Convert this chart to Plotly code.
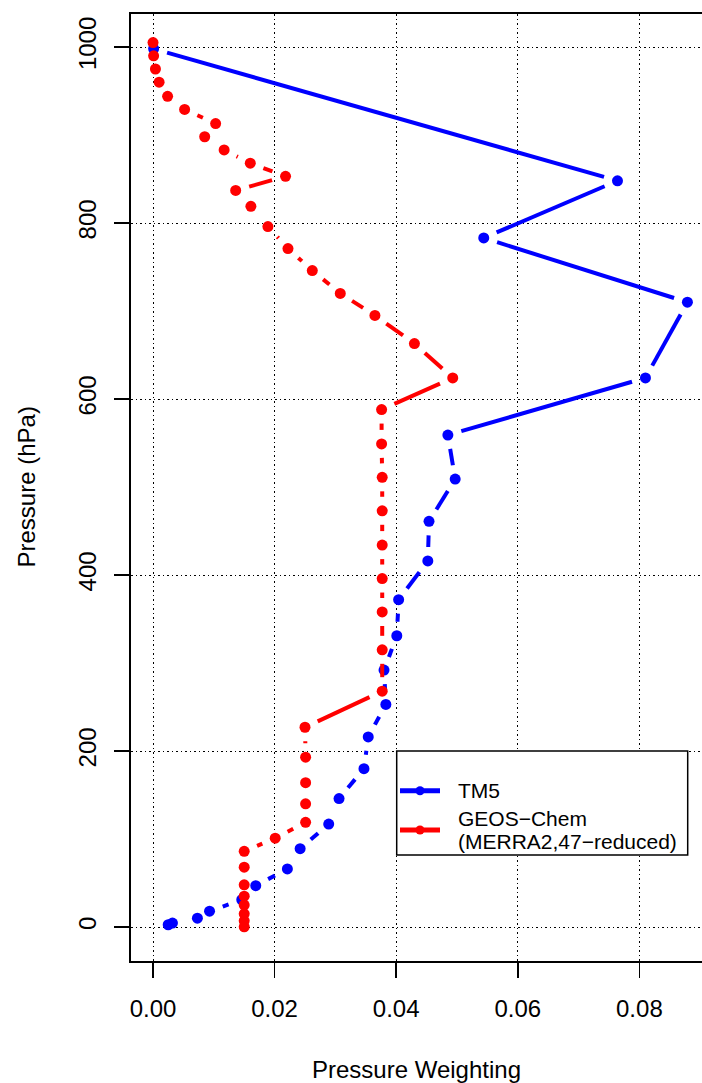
import math
import plotly.graph_objects as go

# ---------------- data ----------------
tm5_weight = [0.0001, 0.0764, 0.0544, 0.0879, 0.0810, 0.0485, 0.0497, 0.0454,
              0.0452, 0.0404, 0.0401, 0.0380, 0.0383, 0.0354, 0.0347, 0.0306,
              0.0289, 0.0242, 0.0221, 0.0169, 0.0146, 0.0093, 0.0073, 0.0032,
              0.0025]
tm5_pressure = [998, 848, 783, 710, 624, 559, 509, 461,
                416, 372, 331, 292, 253, 216, 180, 146,
                117, 89, 66, 47, 31, 18, 10, 4.5,
                2.6]

geos_weight = [0.0000, 0.0001, 0.0004, 0.0010, 0.0024, 0.0052, 0.0103, 0.0085,
               0.0117, 0.0160, 0.0218, 0.0136, 0.0161, 0.0189, 0.0222, 0.0262,
               0.0308, 0.0365, 0.0430, 0.0493, 0.0376, 0.0376, 0.0377, 0.0377,
               0.0377, 0.0377, 0.0377, 0.0377, 0.0377, 0.0250, 0.0251, 0.0251,
               0.0251, 0.0251, 0.0201, 0.0150, 0.0150, 0.0150, 0.0150, 0.0150,
               0.0150, 0.0150, 0.0150]
geos_pressure = [1005, 990, 975, 960, 944, 929, 913, 898,
                 883, 868, 853, 837, 819, 796, 771, 746,
                 720, 695, 663, 624, 588, 549, 511, 473,
                 434, 396, 358, 315, 268, 227, 193, 164,
                 140, 119, 101, 86, 68, 48, 35, 25,
                 15, 7, 0.3]

series_names = ["TM5", "GEOS\u2212Chem"]
legend_lines = [["TM5"], ["GEOS\u2212Chem", "(MERRA2,47\u2212reduced)"]]
series_colors = ["#0000FF", "#FF0000"]

x_ticks = [0.00, 0.02, 0.04, 0.06, 0.08]
x_tick_labels = ["0.00", "0.02", "0.04", "0.06", "0.08"]
y_ticks = [0, 200, 400, 600, 800, 1000]
y_tick_labels = ["0", "200", "400", "600", "800", "1000"]

# ---------------- layout geometry ----------------
OFF = 0                      # body margin removed by post_script below
W, H = 702 - OFF, 1083 - OFF
ML, MT, MR = 131 - OFF, 14 - OFF, 0
PW = W - ML - MR
PH = 961 - 14
MB = H - MT - PH
XR = [-0.00362, 0.0903]
YR = [-38.6, 1037.5]
GAP = 14.0  # px gap between line ends and point centres (R type="b")
FONT = "Liberation Sans, Arial, Helvetica, sans-serif"


def to_px(x, y):
    return (ML + (x - XR[0]) / (XR[1] - XR[0]) * PW,
            MT + PH - (y - YR[0]) / (YR[1] - YR[0]) * PH)


def from_px(px, py):
    return (XR[0] + (px - ML) / PW * (XR[1] - XR[0]),
            YR[0] + (MT + PH - py) / PH * (YR[1] - YR[0]))


def paper(px_page, py_page):
    """page pixel -> paper coordinates (for legend decoration)"""
    fx, fy = px_page - OFF, py_page - OFF
    return (fx - ML) / PW, (MT + PH - fy) / PH


def gapped(xs, ys):
    gx, gy = [], []
    for i in range(len(xs) - 1):
        ax, ay = to_px(xs[i], ys[i])
        bx, by = to_px(xs[i + 1], ys[i + 1])
        d = math.hypot(bx - ax, by - ay)
        if d <= 2 * GAP:
            continue
        ux, uy = (bx - ax) / d, (by - ay) / d
        x1, y1 = from_px(ax + GAP * ux, ay + GAP * uy)
        x2, y2 = from_px(bx - GAP * ux, by - GAP * uy)
        gx += [x1, x2, None]
        gy += [y1, y2, None]
    return gx, gy


fig = go.Figure()
for name, col, xs, ys in [(series_names[0], series_colors[0], tm5_weight, tm5_pressure),
                          (series_names[1], series_colors[1], geos_weight, geos_pressure)]:
    gx, gy = gapped(xs, ys)
    fig.add_trace(go.Scatter(x=gx, y=gy, mode="lines", line=dict(color=col, width=4),
                             showlegend=False, hoverinfo="skip"))
    fig.add_trace(go.Scatter(x=xs, y=ys, mode="markers",
                             marker=dict(color=col, size=11, line=dict(width=0)),
                             showlegend=False, name=name))

axis_common = dict(
    showgrid=True, gridcolor="black", gridwidth=1, griddash="1.5px,3px",
    zeroline=False, showline=True, linecolor="black", linewidth=2,
    ticks="outside", ticklen=15, tickwidth=1.5, tickcolor="black",
    tickfont=dict(family=FONT, size=24, color="black"),
    automargin=False, fixedrange=True,
)

# ---------------- manual R-style legend ----------------
shapes = []
annotations = []
x0, y0 = paper(396.7, 751)
x1, y1 = paper(687.7, 855)
shapes.append(dict(type="rect", xref="paper", yref="paper", x0=x0, y0=y1, x1=x1, y1=y0,
                   line=dict(color="black", width=1.5), fillcolor="white", layer="above"))
sym_y = [790.7, 830]
text_y = [[790.7], [818, 841.7]]
for k, col in enumerate(series_colors):
    lx0, ly = paper(400, sym_y[k])
    lx1, _ = paper(440, sym_y[k])
    shapes.append(dict(type="line", xref="paper", yref="paper", x0=lx0, x1=lx1, y0=ly, y1=ly,
                       line=dict(color=col, width=5), layer="above"))
    cx0, cy0 = paper(420 - 4.5, sym_y[k] - 4.5)
    cx1, cy1 = paper(420 + 4.5, sym_y[k] + 4.5)
    shapes.append(dict(type="circle", xref="paper", yref="paper", x0=cx0, x1=cx1, y0=cy1, y1=cy0,
                       line=dict(width=0), fillcolor=col, layer="above"))
    for line_txt, ty in zip(legend_lines[k], text_y[k]):
        tx, typ = paper(455.5, ty)
        annotations.append(dict(text=line_txt, xref="paper", yref="paper", x=tx, y=typ,
                                xanchor="left", yanchor="middle", showarrow=False,
                                font=dict(family=FONT, size=21, color="black")))

annotations += [
    dict(text="Pressure Weighting", xref="paper", yref="paper", x=0.5, y=0,
         yshift=-(1069 - 961), xanchor="center", yanchor="middle",
         showarrow=False, font=dict(family=FONT, size=24, color="black")),
    dict(text="Pressure (hPa)", xref="paper", yref="paper", x=0, y=0.5,
         xshift=-(131 - 26), xanchor="center", yanchor="middle", textangle=-90,
         showarrow=False, font=dict(family=FONT, size=24, color="black")),
]

fig.update_layout(
    width=W, height=H,
    margin=dict(l=ML, r=MR, t=MT, b=MB, pad=0),
    paper_bgcolor="white", plot_bgcolor="white",
    font=dict(family=FONT, color="black"),
    showlegend=False,
    hovermode=False,
    xaxis=dict(range=XR, tickvals=x_ticks, ticktext=x_tick_labels, mirror=True,
               ticklabelstandoff=10, **axis_common),
    yaxis=dict(range=YR, tickvals=y_ticks, ticktext=y_tick_labels, mirror=False,
               tickangle=-90, ticklabelstandoff=8, **axis_common),
    shapes=shapes,
    annotations=annotations,
)

fig.write_html(
    "out.html",
    config={"displayModeBar": False, "staticPlot": True},
    post_script="document.body.style.margin='0';document.body.style.padding='0';"
                "document.documentElement.style.overflow='hidden';"
                "document.body.style.overflow='hidden';",
)
